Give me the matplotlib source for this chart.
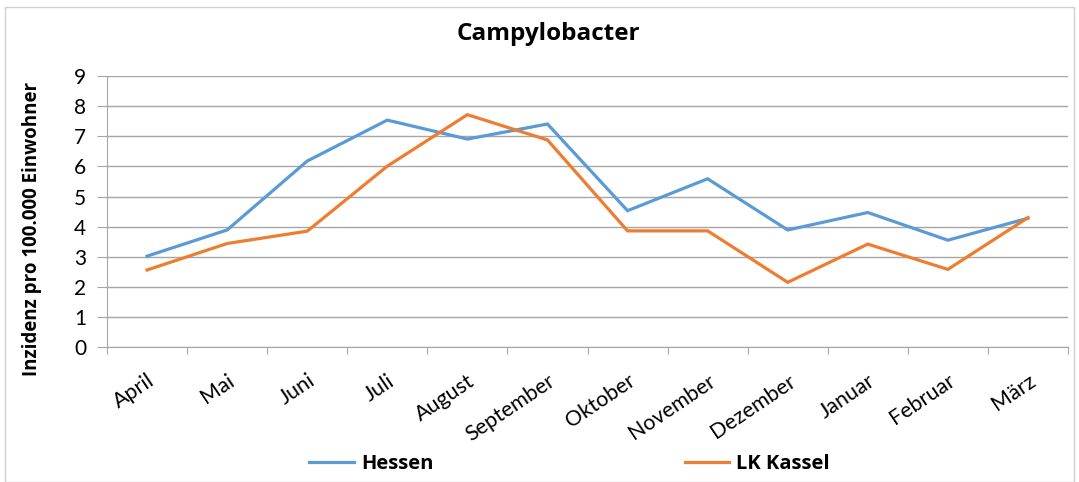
import matplotlib
matplotlib.use("Agg")
import matplotlib.pyplot as plt
from matplotlib.patches import Rectangle

# Monatsdaten (Inzidenz pro 100.000 Einwohner)
months = ["April", "Mai", "Juni", "Juli", "August", "September",
          "Oktober", "November", "Dezember", "Januar", "Februar", "März"]
hessen = [3.02, 3.89, 6.18, 7.54, 6.91, 7.41, 4.53, 5.59, 3.89, 4.47, 3.55, 4.28]
lk_kassel = [2.56, 3.44, 3.85, 6.01, 7.72, 6.88, 3.86, 3.86, 2.15, 3.42, 2.58, 4.30]
y_ticks = list(range(0, 10))

blue = "#5B9BD5"
orange = "#ED7D31"
grid_col = "#A6A6A6"

fig = plt.figure(figsize=(10.79, 4.82), dpi=100)
ax = fig.add_axes([0.0992, 0.280, 0.8906, 0.562])

x = range(len(months))
ax.plot(x, hessen, color=blue, lw=2.3, label="Hessen", solid_joinstyle="miter")
ax.plot(x, lk_kassel, color=orange, lw=2.3, label="LK Kassel", solid_joinstyle="miter")

ax.set_xlim(-0.5, len(months) - 0.5)
ax.set_ylim(0, 9)
ax.set_yticks(y_ticks)
ax.tick_params(axis="y", length=7, color=grid_col, labelsize=15, pad=8)
ax.grid(axis="y", color=grid_col, lw=1)
ax.set_axisbelow(True)

# Kategorien-Ticks zwischen den Monaten
ax.set_xticks([i - 0.5 for i in range(len(months) + 1)], minor=False)
ax.set_xticklabels([])
ax.set_xticks(list(x), minor=True)
ax.set_xticklabels(months, minor=True, rotation=34, ha="right",
                   rotation_mode="anchor", fontsize=15.5, family="Lato")
ax.tick_params(axis="x", which="major", length=5, color=grid_col)
ax.tick_params(axis="x", which="minor", length=0, pad=17)
for lbl in ax.get_yticklabels():
    lbl.set_family("Lato")

for s in ["top", "right"]:
    ax.spines[s].set_visible(False)
ax.spines["left"].set_color(grid_col)
ax.spines["bottom"].set_color(grid_col)

ax.set_ylabel("Inzidenz pro 100.000 Einwohner", fontsize=13.5,
              fontweight="bold", family="Open Sans")
ax.yaxis.set_label_coords(-0.068, 0.435)

fig.text(0.508, 0.93, "Campylobacter", ha="center", va="center",
         fontsize=17.5, fontweight="bold", family="Open Sans")

fig.legend(loc="center", bbox_to_anchor=(0.528, 0.037), ncol=2, frameon=False,
           handlelength=2.2, handletextpad=0.35, columnspacing=12.5,
           prop={"family": "Open Sans", "weight": "bold", "size": 14.5})

fig.patches.append(Rectangle((0.005, 0.0), 0.99, 0.985, transform=fig.transFigure,
                             fill=False, edgecolor="#D0D0D0", lw=1))

fig.savefig("out.png", dpi=100)
